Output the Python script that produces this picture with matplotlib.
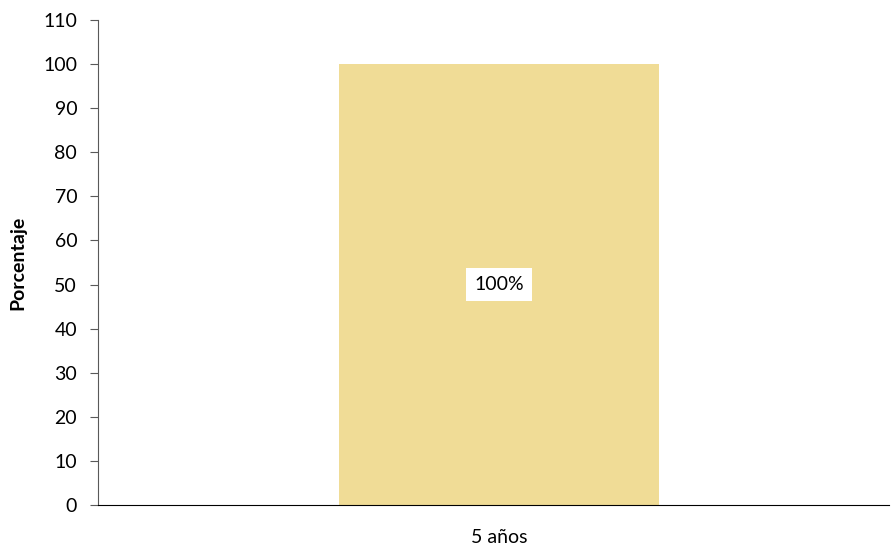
import matplotlib.pyplot as plt

plt.rcParams['font.family'] = ['Lato', 'DejaVu Sans']

categories = ['5 años']
values = [100]
labels = ['100%']

fig = plt.figure(figsize=(8.91, 5.48), dpi=100)
ax = fig.add_axes([98 / 891, 1 - 505 / 548, (889 - 98) / 891, (505 - 20) / 548])

bars = ax.bar(categories, values, width=1.01, color='#F0DC96')
for bar, lab in zip(bars, labels):
    ax.text(bar.get_x() + bar.get_width() / 2, bar.get_height() / 2, lab,
            ha='center', va='center', fontsize=14,
            bbox=dict(facecolor='white', edgecolor='none', pad=6))

ax.set_xlim(-1.2675, 1.2325)
ax.set_ylim(0, 110)
ax.set_yticks(range(0, 111, 10))
ax.set_ylabel('Porcentaje', fontsize=14, fontweight='bold', labelpad=12)

ax.spines['top'].set_visible(False)
ax.spines['right'].set_visible(False)
ax.spines['left'].set_color('#595959')
ax.spines['bottom'].set_color('black')
ax.tick_params(axis='y', length=6, color='#595959', labelsize=14, pad=9)
ax.tick_params(axis='x', length=0, labelsize=14, pad=17)

fig.savefig('out.png', dpi=100)
